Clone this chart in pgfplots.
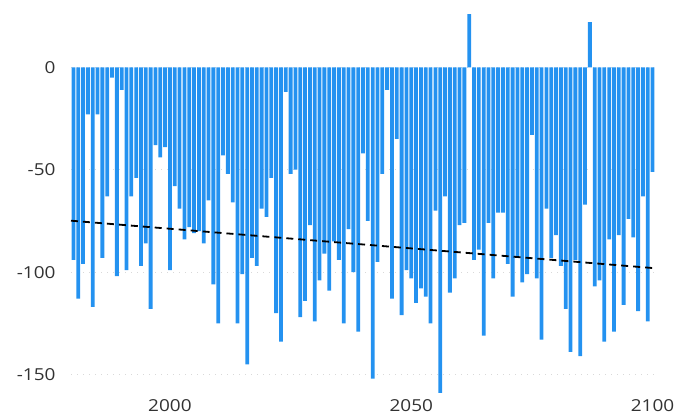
\documentclass[border=0pt]{standalone}
\usepackage{fontspec}
\setmainfont{Open Sans}
\newfontfamily\tickfont[FakeStretch=1.15]{Open Sans}
\usepackage{pgfplots}
\pgfplotsset{compat=1.18}
\usepackage{pgfplotstable}
\definecolor{barblue}{RGB}{36,146,240}
\definecolor{ticktext}{RGB}{50,50,50}
\pgfplotstableread{
year val
1980 -94
1981 -113
1982 -96
1983 -23
1984 -117
1985 -23
1986 -93
1987 -63
1988 -5
1989 -102
1990 -11
1991 -99
1992 -63
1993 -54
1994 -97
1995 -86
1996 -118
1997 -38
1998 -44
1999 -39
2000 -99
2001 -58
2002 -69
2003 -84
2004 -78
2005 -81
2006 -80
2007 -86
2008 -65
2009 -106
2010 -125
2011 -43
2012 -52
2013 -66
2014 -125
2015 -101
2016 -145
2017 -93
2018 -97
2019 -69
2020 -73
2021 -54
2022 -120
2023 -134
2024 -12
2025 -52
2026 -50
2027 -122
2028 -114
2029 -77
2030 -124
2031 -104
2032 -91
2033 -109
2034 -85
2035 -94
2036 -125
2037 -79
2038 -100
2039 -129
2040 -42
2041 -75
2042 -152
2043 -95
2044 -52
2045 -11
2046 -113
2047 -35
2048 -121
2049 -99
2050 -103
2051 -115
2052 -108
2053 -112
2054 -125
2055 -70
2056 -159
2057 -63
2058 -110
2059 -103
2060 -77
2061 -76
2062 26
2063 -94
2064 -89
2065 -131
2066 -76
2067 -103
2068 -71
2069 -71
2070 -96
2071 -112
2072 -93
2073 -105
2074 -101
2075 -33
2076 -103
2077 -133
2078 -69
2079 -93
2080 -82
2081 -97
2082 -118
2083 -139
2084 -94
2085 -141
2086 -67
2087 22
2088 -107
2089 -104
2090 -134
2091 -84
2092 -129
2093 -82
2094 -116
2095 -74
2096 -83
2097 -119
2098 -63
2099 -124
2100 -51
}\bars
\begin{document}
\begin{tikzpicture}
\useasboundingbox (0,0) rectangle (693pt,420pt);
\begin{axis}[
  at={(71pt,25pt)}, anchor=south west,
  scale only axis,
  width=584pt, height=383pt,
  xmin=1979.5, xmax=2100.5,
  ymin=-160, ymax=27,
  axis line style={draw=none},
  tick style={draw=none},
  xtick={2000,2050,2100},
  xticklabels={2000,2050,2100},
  ytick={-150,-100,-50,0},
  yticklabels={-150,-100,-50,0},
  ymajorgrids,
  grid style={dash pattern=on 1pt off 5pt, gray!30, line width=1pt},
  ticklabel style={font=\tickfont\fontsize{16.5}{19}\selectfont, text=ticktext},
  yticklabel style={xshift=-12pt},
  xticklabel style={yshift=-1pt},
  clip=false,
]
\addplot[ybar, bar width=3.8pt, fill=barblue, draw=none] table[x=year, y=val] {\bars};
\addplot[black, dashed, dash pattern=on 7pt off 5pt, line width=1.8pt] coordinates {(1979.5,-74.9) (2100.5,-98.1)};
\end{axis}
\end{tikzpicture}
\end{document}
